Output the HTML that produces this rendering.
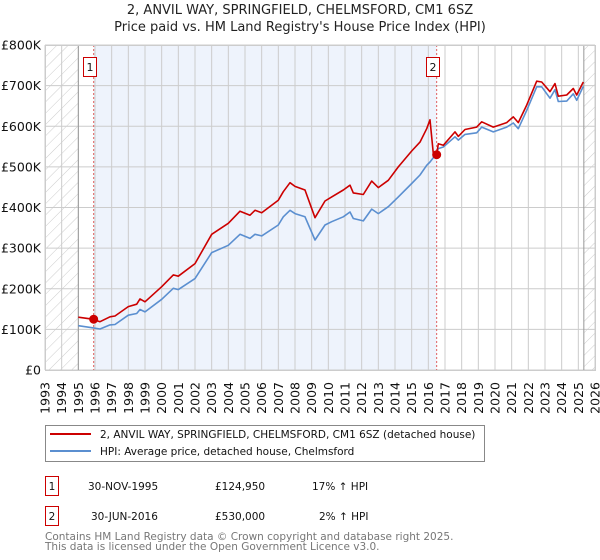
<!DOCTYPE html>
<html><head><meta charset="utf-8"><style>
body{margin:0;background:#fff;font-family:"DejaVu Sans","Liberation Sans",sans-serif;}
svg{display:block}
</style></head><body>
<svg id="chart" width="600" height="560" xmlns="http://www.w3.org/2000/svg" font-family="DejaVu Sans, Liberation Sans, sans-serif">
<defs>
<pattern id="hatch" patternUnits="userSpaceOnUse" width="8" height="8" patternTransform="rotate(45)">
<line x1="0" y1="0" x2="0" y2="8" stroke="#ccc" stroke-width="1"/>
</pattern>
</defs>
<text x="300" y="14" text-anchor="middle" font-size="13" fill="#222">2, ANVIL WAY, SPRINGFIELD, CHELMSFORD, CM1 6SZ</text>
<text x="300" y="31" text-anchor="middle" font-size="13" fill="#222">Price paid vs. HM Land Registry's House Price Index (HPI)</text>
<g id="plot"></g>
<g>
<rect x="45.5" y="425.5" width="439" height="36" fill="#fff" stroke="#888"/>
<line x1="50" y1="434" x2="91" y2="434" stroke="#cc0000" stroke-width="2"/>
<text x="100" y="438" font-size="10.5" fill="#111">2, ANVIL WAY, SPRINGFIELD, CHELMSFORD, CM1 6SZ (detached house)</text>
<line x1="50" y1="451" x2="91" y2="451" stroke="#5b8fd0" stroke-width="2"/>
<text x="100" y="455" font-size="10.5" fill="#111">HPI: Average price, detached house, Chelmsford</text>
</g>
<g>
<rect x="45.5" y="476.5" width="13" height="19" fill="#fff" stroke="#cc0000"/>
<text x="52" y="490" text-anchor="middle" font-size="10.5" fill="#111">1</text>
<text x="88" y="490" font-size="10.5" fill="#111">30-NOV-1995</text>
<text x="215" y="490" font-size="10.5" fill="#111">£124,950</text>
<text x="312" y="490" font-size="10.5" fill="#111">17% ↑ HPI</text>
<rect x="45.5" y="506.5" width="13" height="19" fill="#fff" stroke="#cc0000"/>
<text x="52" y="520" text-anchor="middle" font-size="10.5" fill="#111">2</text>
<text x="91" y="520" font-size="10.5" fill="#111">30-JUN-2016</text>
<text x="215" y="520" font-size="10.5" fill="#111">£530,000</text>
<text x="319" y="520" font-size="10.5" fill="#111">2% ↑ HPI</text>
</g>
<text x="45" y="540" font-size="10.5" fill="#777">Contains HM Land Registry data © Crown copyright and database right 2025.</text>
<text x="45" y="550" font-size="10.5" fill="#777">This data is licensed under the Open Government Licence v3.0.</text>
</svg>
<script>
const yTicks=[0,100,200,300,400,500,600,700,800];
const yTickLabels=["£0","£100K","£200K","£300K","£400K","£500K","£600K","£700K","£800K"];
const xYears=[1993,1994,1995,1996,1997,1998,1999,2000,2001,2002,2003,2004,2005,2006,2007,2008,2009,2010,2011,2012,2013,2014,2015,2016,2017,2018,2019,2020,2021,2022,2023,2024,2025,2026];
const hpiYears=[1995.0,1995.86,1996.3,1996.9,1997.2,1998.0,1998.5,1998.7,1999.0,2000.0,2000.7,2001.0,2002.0,2003.0,2004.0,2004.7,2005.3,2005.6,2006.0,2007.0,2007.3,2007.7,2008.0,2008.6,2009.2,2009.8,2010.2,2010.9,2011.3,2011.5,2012.1,2012.6,2013.0,2013.6,2014.2,2015.0,2015.5,2015.9,2016.1,2016.4,2016.6,2016.9,2017.6,2017.8,2018.2,2018.9,2019.2,2019.9,2020.7,2021.1,2021.4,2021.9,2022.5,2022.8,2023.3,2023.6,2023.8,2024.3,2024.7,2024.9,2025.3];
const hpiValues=[109,104,101,111,112,135,139,149,143,174,201,198,225,289,307,334,324,334,330,357,377,393,385,377,320,357,365,377,389,373,367,396,385,402,426,459,480,504,512,528,545,549,574,566,580,584,598,586,598,608,594,639,697,697,669,690,661,662,680,664,698];
const priceYears=[1995.0,1995.86,1996.3,1996.9,1997.2,1998.0,1998.5,1998.7,1999.0,2000.0,2000.7,2001.0,2002.0,2003.0,2004.0,2004.7,2005.3,2005.6,2006.0,2007.0,2007.3,2007.7,2008.0,2008.6,2009.2,2009.8,2010.2,2010.9,2011.3,2011.5,2012.1,2012.6,2013.0,2013.6,2014.2,2015.0,2015.5,2015.9,2016.1,2016.3,2016.5,2016.6,2016.9,2017.6,2017.8,2018.2,2018.9,2019.2,2019.9,2020.7,2021.1,2021.4,2021.9,2022.5,2022.8,2023.3,2023.6,2023.8,2024.3,2024.7,2024.9,2025.3];
const priceValues=[130,125,119,131,133,156,162,175,168,205,234,231,262,334,361,391,381,393,387,418,439,461,452,443,375,416,426,443,455,436,432,465,449,467,500,539,561,594,616,533,530,557,553,586,575,592,598,611,598,609,623,609,652,711,709,685,705,674,677,693,677,709];
const saleYears=[1995.92,2016.5];
const saleValues=[124.95,530];
const saleLabels=["1","2"];

const NS="http://www.w3.org/2000/svg";
const L=45,R=595,T=45,B=370,X0=1993,X1=2026,YMAX=800;
const xs=y=>L+(y-X0)/(X1-X0)*(R-L);
const ys=v=>B-v/YMAX*(B-T);
const plot=document.getElementById('plot');
function mk(tag,attrs){const e=document.createElementNS(NS,tag);for(const k in attrs)e.setAttribute(k,attrs[k]);plot.appendChild(e);return e;}

let e;
e=mk('rect',{x:xs(1995),y:T,width:xs(saleYears[0])-xs(1995),height:B-T,fill:'#fff'});
e=mk('rect',{x:xs(saleYears[0]),y:T,width:xs(saleYears[1])-xs(saleYears[0]),height:B-T,fill:'#eef3fc'});


e=mk('rect',{x:L,y:T,width:xs(1995)-L,height:B-T,fill:'url(#hatch)'});


e=mk('rect',{x:xs(2025.33),y:T,width:R-xs(2025.33),height:B-T,fill:'url(#hatch)'});



xYears.forEach(y=>{
 const g=mk('line',{x1:xs(y),x2:xs(y),y1:T,y2:B,stroke:'#ccc','stroke-width':1});
 
 
 const t=mk('text',{x:xs(y)+4.5,y:B+12,'font-size':12.5,fill:'#111','text-anchor':'end',transform:`rotate(-90 ${xs(y)+4.5} ${B+12})`});
 t.textContent=y;
 
 
});
yTicks.forEach((v,i)=>{
 const g=mk('line',{x1:L,x2:R,y1:ys(v),y2:ys(v),stroke:'#ccc','stroke-width':1});
 
 
 const t=mk('text',{x:L-4,y:ys(v)+4.5,'font-size':12.5,fill:'#111','text-anchor':'end'});
 t.textContent=yTickLabels[i];
 
 
});
e=mk('line',{x1:xs(1995),x2:xs(1995),y1:T,y2:B,stroke:'#999'});
e=mk('line',{x1:xs(2025.33),x2:xs(2025.33),y1:T,y2:B,stroke:'#999'});

saleYears.forEach((y,i)=>{
 const l=mk('line',{x1:xs(y),x2:xs(y),y1:T,y2:B,stroke:'#e06060','stroke-dasharray':'2,2','stroke-width':1});
 
 
});

function path(xa,va,color,name){
 const d=xa.map((y,i)=>(i?'L':'M')+xs(y).toFixed(1)+','+ys(va[i]).toFixed(1)).join('');
 const p=mk('path',{d:d,fill:'none',stroke:color,'stroke-width':1.6,'stroke-linejoin':'round'});
 
 
}
path(hpiYears,hpiValues,'#5b8fd0','hpi-line');
path(priceYears,priceValues,'#cc0000','price-line');

saleYears.forEach((y,i)=>{
 const c=mk('circle',{cx:xs(y),cy:ys(saleValues[i]),r:4.5,fill:'#cc0000'});
 
 
 const r=mk('rect',{x:Math.round(xs(y))-10.5,y:57.5,width:13,height:19,fill:'#fff',stroke:'#cc0000'});
 
 
 const t=mk('text',{x:Math.round(xs(y))-4,y:71,'font-size':11,fill:'#111','text-anchor':'middle'});
 t.textContent=saleLabels[i];
 
 
});
e=mk('rect',{x:L+0.5,y:T+0.5,width:R-L,height:B-T,fill:'none',stroke:'#ccc'});
</script>
</body></html>
